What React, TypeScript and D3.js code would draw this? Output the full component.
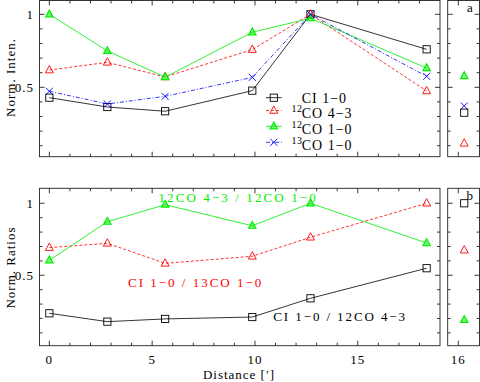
import React from "react";
import * as d3 from "d3";

// ---- data ----
const distances = [0, 2.82, 5.63, 9.87, 12.7, 18.35];
const ciInten = [0.429, 0.365, 0.336, 0.477, 1.0, 0.76];
const co43Inten = [0.618, 0.671, 0.571, 0.758, 1.0, 0.475];
const co10Inten = [1.0, 0.749, 0.57, 0.877, 0.973, 0.632];
const co13Inten = [0.473, 0.386, 0.438, 0.568, 1.0, 0.575];

const sideX = 16.28;
const sideA = { ci: 0.326, co43: 0.116, co10: 0.577, co13: 0.372 };

const ciCo43 = [0.236, 0.178, 0.197, 0.21, 0.34, 0.549];
const ciCo13 = [0.692, 0.722, 0.583, 0.632, 0.764, 1.0];
const co43Co10 = [0.604, 0.872, 0.99, 0.844, 1.0, 0.724];
const sideB = { ciCo43: 1.0, ciCo13: 0.674, co43Co10: 0.19 };

const xTickLabels = [0, 5, 10, 15];
const sideTickLabels = [16];
const yTickLabels = [0.5, 1];

const FONT = "'Liberation Serif', 'DejaVu Serif', serif";
const BLACK = "#000";
const RED = "#ff0000";
const GREEN = "#00ee00";
const BLUE = "#0000ff";
const M = "\u2212";

// ---- scales ----
const x = d3.scaleLinear().domain([-0.48, 19]).range([39.5, 440]);
const xs = d3.scaleLinear().domain([15.5, 17]).range([447.7, 479.5]);
const yTop = d3.scaleLinear().domain([0.0247, 1.0945]).range([156.7, 0.5]);
const yBot = d3.scaleLinear().domain([0.011, 1.104]).range([345.7, 188.3]);

type Marker = "square" | "tri" | "ftri" | "x";

function MarkerShape({ type, cx, cy, color }: { type: Marker; cx: number; cy: number; color: string }) {
  if (type === "square") {
    const s = 3.6;
    return <rect x={cx - s} y={cy - s} width={2 * s} height={2 * s} fill="none" stroke={color} strokeWidth={0.9} />;
  }
  if (type === "tri" || type === "ftri") {
    const r = type === "tri" ? 4.6 : 4.2;
    const p = `${cx},${cy - r} ${cx + r * 0.87},${cy + r * 0.6} ${cx - r * 0.87},${cy + r * 0.6}`;
    return (
      <polygon
        points={p}
        fill={type === "ftri" ? color : "none"}
        fillOpacity={type === "ftri" ? 0.5 : 0}
        stroke={color}
        strokeWidth={type === "ftri" ? 1.2 : 0.9}
      />
    );
  }
  const s = 3.5;
  return (
    <g stroke={color} strokeWidth={0.9}>
      <line x1={cx - s} y1={cy - s} x2={cx + s} y2={cy + s} />
      <line x1={cx - s} y1={cy + s} x2={cx + s} y2={cy - s} />
    </g>
  );
}

function Series({
  xs: xv,
  ys,
  y,
  color,
  dash,
  marker,
}: {
  xs: number[];
  ys: number[];
  y: d3.ScaleLinear<number, number>;
  color: string;
  dash?: string;
  marker: Marker;
}) {
  const line = d3
    .line<number>()
    .x((_, i) => x(xv[i]))
    .y((d) => y(d));
  return (
    <g>
      <path d={line(ys) || ""} fill="none" stroke={color} strokeWidth={0.8} strokeDasharray={dash} />
      {ys.map((v, i) => (
        <MarkerShape key={i} type={marker} cx={x(xv[i])} cy={y(v)} color={color} />
      ))}
    </g>
  );
}

function Frame({
  xScale,
  y,
  xMinor,
  xMajor,
}: {
  xScale: d3.ScaleLinear<number, number>;
  y: d3.ScaleLinear<number, number>;
  xMinor: number[];
  xMajor: number[];
}) {
  const [x0, x1] = xScale.range();
  const [yb, yt] = y.range();
  const yMinor = d3.range(1, 11).map((k) => k / 10);
  const ticks: React.ReactElement[] = [];
  xMinor.forEach((v, i) => {
    const px = xScale(v);
    const major = xMajor.includes(v);
    const len = major ? 5 : 3;
    ticks.push(<line key={"xb" + i} x1={px} x2={px} y1={yb} y2={yb - len} />);
    ticks.push(<line key={"xt" + i} x1={px} x2={px} y1={yt} y2={yt + len} />);
  });
  yMinor.forEach((v, i) => {
    const py = y(v);
    const major = Math.abs(v - 0.5) < 1e-6 || Math.abs(v - 1) < 1e-6;
    const len = major ? 5 : 3;
    ticks.push(<line key={"yl" + i} x1={x0} x2={x0 + len} y1={py} y2={py} />);
    ticks.push(<line key={"yr" + i} x1={x1} x2={x1 - len} y1={py} y2={py} />);
  });
  return (
    <g stroke="#222" strokeWidth={0.9} fill="none">
      {ticks}
      <rect x={x0} y={yt} width={x1 - x0} height={yb - yt} />
    </g>
  );
}

const mainMinor = d3.range(0, 19, 1);
const sideMinor = [16];

const legendRows = [
  { sup: "", label: `CI 1${M}0`, color: BLACK, dash: undefined as string | undefined, marker: "square" as Marker, ly: 97.7, ty: 102.5 },
  { sup: "12", label: `CO 4${M}3`, color: RED, dash: "3,2", marker: "tri" as Marker, ly: 110.5, ty: 118.3 },
  { sup: "12", label: `CO 1${M}0`, color: GREEN, dash: undefined, marker: "ftri" as Marker, ly: 126.3, ty: 134 },
  { sup: "13", label: `CO 1${M}0`, color: BLUE, dash: "4,2,1,2", marker: "x" as Marker, ly: 142.3, ty: 150 },
];

export default function App() {
  const textStyle = { fontFamily: FONT, fontSize: 13, letterSpacing: 1 } as React.CSSProperties;
  return (
    <svg
      width={480}
      height={382}
      style={{ position: "absolute", left: 0, top: 0, background: "#fff" }}
    >
      <rect width={480} height={382} fill="#fff" />
      {/* frames */}
      <Frame xScale={x} y={yTop} xMinor={mainMinor} xMajor={[0, 5, 10, 15]} />
      <Frame xScale={xs} y={yTop} xMinor={sideMinor} xMajor={[16]} />
      <Frame xScale={x} y={yBot} xMinor={mainMinor} xMajor={[0, 5, 10, 15]} />
      <Frame xScale={xs} y={yBot} xMinor={sideMinor} xMajor={[16]} />

      {/* top panel */}
      <Series xs={distances} ys={ciInten} y={yTop} color={BLACK} marker="square" />
      <Series xs={distances} ys={co43Inten} y={yTop} color={RED} dash="3,2" marker="tri" />
      <Series xs={distances} ys={co10Inten} y={yTop} color={GREEN} marker="ftri" />
      <Series xs={distances} ys={co13Inten} y={yTop} color={BLUE} dash="4,2,1,2" marker="x" />

      <MarkerShape type="ftri" cx={xs(sideX)} cy={yTop(sideA.co10)} color={GREEN} />
      <MarkerShape type="x" cx={xs(sideX)} cy={yTop(sideA.co13)} color={BLUE} />
      <MarkerShape type="square" cx={xs(sideX)} cy={yTop(sideA.ci)} color={BLACK} />
      <MarkerShape type="tri" cx={xs(sideX)} cy={yTop(sideA.co43)} color={RED} />

      {/* legend */}
      {legendRows.map((r, i) => (
        <g key={i}>
          <line x1={266} x2={281.7} y1={r.ly} y2={r.ly} stroke={r.color} strokeWidth={0.8} strokeDasharray={r.dash} />
          <MarkerShape type={r.marker} cx={273.8} cy={r.ly} color={r.color} />
          {r.sup && (
            <text x={291.5} y={r.ty - 6} style={{ ...textStyle, fontSize: 10, letterSpacing: 0.5 }} fill="#000">
              {r.sup}
            </text>
          )}
          <text x={301.7} y={r.ty} style={{ ...textStyle, fontSize: 14 }} fill="#000">
            {r.label}
          </text>
        </g>
      ))}

      {/* bottom panel */}
      <Series xs={distances} ys={ciCo43} y={yBot} color={BLACK} marker="square" />
      <Series xs={distances} ys={ciCo13} y={yBot} color={RED} dash="3,2" marker="tri" />
      <Series xs={distances} ys={co43Co10} y={yBot} color={GREEN} marker="ftri" />

      <MarkerShape type="square" cx={xs(sideX)} cy={yBot(sideB.ciCo43)} color={BLACK} />
      <MarkerShape type="tri" cx={xs(sideX)} cy={yBot(sideB.ciCo13)} color={RED} />
      <MarkerShape type="ftri" cx={xs(sideX)} cy={yBot(sideB.co43Co10)} color={GREEN} />

      <text x={158.5} y={202} style={{ ...textStyle, letterSpacing: 2.1 }} fill={GREEN}>
        {`12CO 4${M}3 / 12CO 1${M}0`}
      </text>
      <text x={128} y={287} style={{ ...textStyle, letterSpacing: 2.0 }} fill={RED}>
        {`CI 1${M}0 / 13CO 1${M}0`}
      </text>
      <text x={273.3} y={321} style={{ ...textStyle, letterSpacing: 1.9 }} fill="#000">
        {`CI 1${M}0 / 12CO 4${M}3`}
      </text>

      {/* panel letters */}
      <text x={467} y={12} style={{ ...textStyle, fontSize: 13 }} fill="#000">a</text>
      <text x={466.5} y={200} style={{ ...textStyle, fontSize: 13 }} fill="#000">b</text>

      {/* y tick labels */}
      {yTickLabels.map((v) => (
        <g key={"yl" + v}>
          <text x={34} y={yTop(v) + 4.5} textAnchor="end" style={textStyle} fill="#000">
            {v === 1 ? "1" : "0.5"}
          </text>
          <text x={34} y={yBot(v) + 4.5} textAnchor="end" style={textStyle} fill="#000">
            {v === 1 ? "1" : "0.5"}
          </text>
        </g>
      ))}

      {/* x tick labels */}
      {xTickLabels.map((v) => (
        <text key={"xt" + v} x={x(v)} y={364} textAnchor="middle" style={textStyle} fill="#000">
          {v}
        </text>
      ))}
      {sideTickLabels.map((v) => (
        <text key={"st" + v} x={xs(v)} y={364} textAnchor="middle" style={textStyle} fill="#000">
          {v}
        </text>
      ))}

      {/* axis titles */}
      <text x={239} y={379} textAnchor="middle" style={textStyle} fill="#000">
        {"Distance [\u2032]"}
      </text>
      <text
        transform={`translate(15,77.5) rotate(-90)`}
        textAnchor="middle"
        style={textStyle}
        fill="#000"
      >
        Norm. Inten.
      </text>
      <text
        transform={`translate(15,267.5) rotate(-90)`}
        textAnchor="middle"
        style={textStyle}
        fill="#000"
      >
        Norm. Ratios
      </text>
    </svg>
  );
}
